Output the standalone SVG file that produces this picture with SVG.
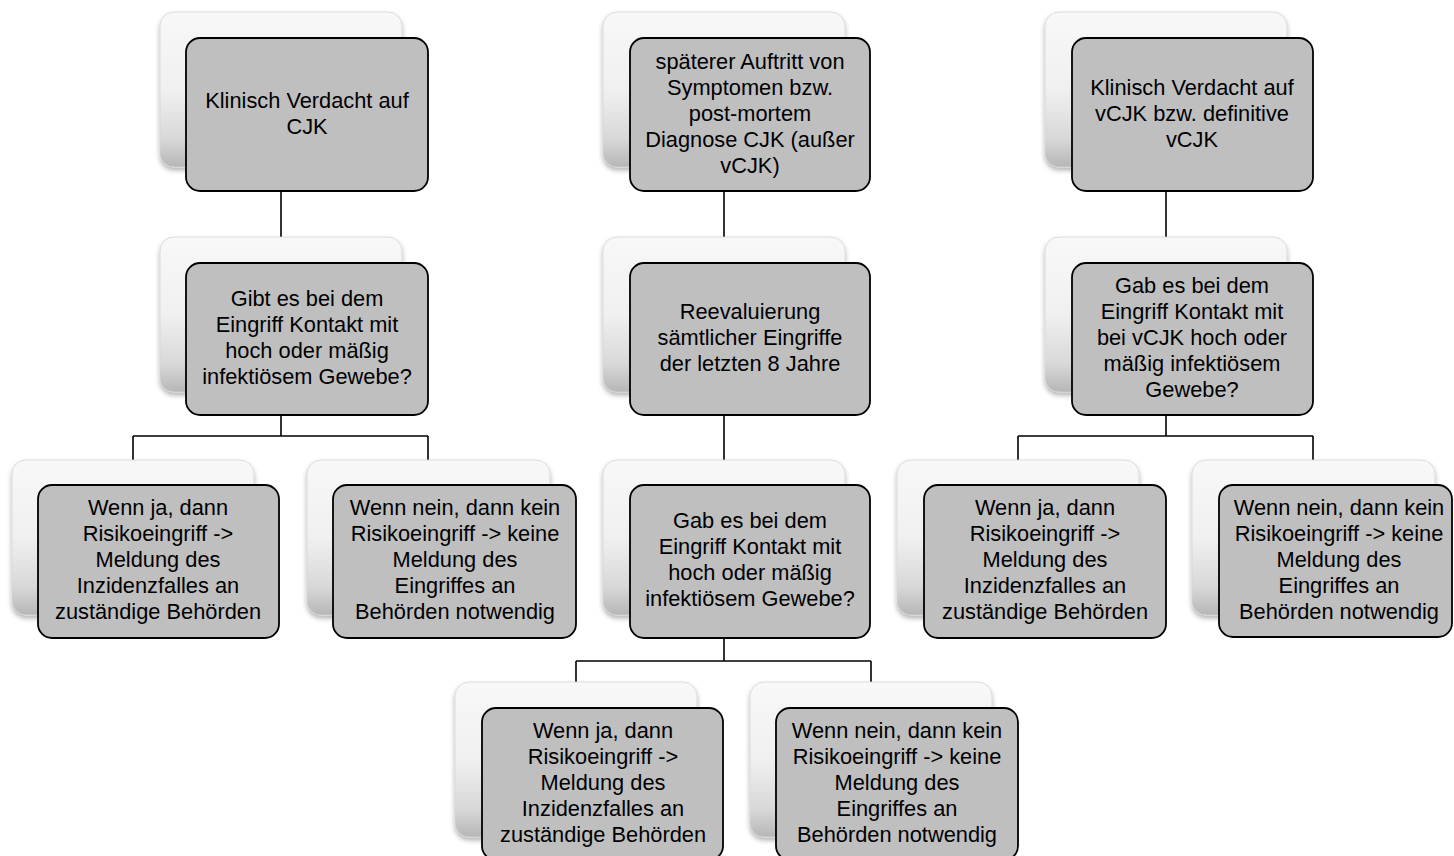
<svg xmlns="http://www.w3.org/2000/svg" width="1454" height="856" viewBox="0 0 1454 856">
<defs>
<linearGradient id="bg" x1="0" y1="0" x2="0" y2="1">
<stop offset="0" stop-color="#f8f8f8"/>
<stop offset="0.5" stop-color="#f0f0f0"/>
<stop offset="0.82" stop-color="#d8d8d8"/>
<stop offset="1" stop-color="#b6b6b6"/>
</linearGradient>
<filter id="sh" x="-10%" y="-10%" width="120%" height="125%">
<feDropShadow dx="0" dy="3" stdDeviation="2.5" flood-color="#000" flood-opacity="0.3"/>
</filter>
<style>
.bk{fill:url(#bg);stroke:#d4d4d4;stroke-width:0.8;filter:url(#sh)}
.fr{fill:#bfbfbf;stroke:#000;stroke-width:1.8}
.t{font-family:"Liberation Sans",Arial,sans-serif;font-size:21.8px;fill:#000;text-anchor:middle}
.c{fill:none;stroke:#000;stroke-width:1.6}
</style>
</defs>
<rect width="1454" height="856" fill="#fff"/>
<g id="connectors">
<path class="c" d="M281,191V237M281,415V436M133,436H428M133,436V460M428,436V460"/>
<path class="c" d="M724,191V237M724,415V460M724,638V661M576,661H871M576,661V682M871,661V682"/>
<path class="c" d="M1166,191V237M1166,415V436M1018,436H1313M1018,436V460M1313,436V460"/>
</g>
<g id="L1">
<rect class="bk" x="160" y="12" width="242" height="155" rx="14"/>
<rect class="fr" x="186" y="38" width="242" height="153" rx="14"/>
<text class="t"><tspan x="307" y="108">Klinisch Verdacht auf</tspan><tspan x="307" y="134">CJK</tspan></text>
</g>
<g id="L2">
<rect class="bk" x="160" y="237" width="242" height="155" rx="14"/>
<rect class="fr" x="186" y="263" width="242" height="152" rx="14"/>
<text class="t"><tspan x="307" y="306">Gibt es bei dem</tspan><tspan x="307" y="332">Eingriff Kontakt mit</tspan><tspan x="307" y="358">hoch oder mäßig</tspan><tspan x="307" y="384">infektiösem Gewebe?</tspan></text>
</g>
<g id="L3a">
<rect class="bk" x="12" y="460" width="242" height="155" rx="14"/>
<rect class="fr" x="38" y="485" width="241" height="153" rx="14"/>
<text class="t"><tspan x="158" y="515">Wenn ja, dann</tspan><tspan x="158" y="541">Risikoeingriff -&gt;</tspan><tspan x="158" y="567">Meldung des</tspan><tspan x="158" y="593">Inzidenzfalles an</tspan><tspan x="158" y="619">zuständige Behörden</tspan></text>
</g>
<g id="L3b">
<rect class="bk" x="307" y="460" width="243" height="155" rx="14"/>
<rect class="fr" x="333" y="485" width="243" height="153" rx="14"/>
<text class="t"><tspan x="455" y="515">Wenn nein, dann kein</tspan><tspan x="455" y="541">Risikoeingriff -&gt; keine</tspan><tspan x="455" y="567">Meldung des</tspan><tspan x="455" y="593">Eingriffes an</tspan><tspan x="455" y="619">Behörden notwendig</tspan></text>
</g>
<g id="M1">
<rect class="bk" x="603" y="12" width="242" height="155" rx="14"/>
<rect class="fr" x="630" y="38" width="240" height="153" rx="14"/>
<text class="t"><tspan x="750" y="69">späterer Auftritt von</tspan><tspan x="750" y="95">Symptomen bzw.</tspan><tspan x="750" y="121">post-mortem</tspan><tspan x="750" y="147">Diagnose CJK (außer</tspan><tspan x="750" y="173">vCJK)</tspan></text>
</g>
<g id="M2">
<rect class="bk" x="603" y="237" width="242" height="155" rx="14"/>
<rect class="fr" x="630" y="263" width="240" height="152" rx="14"/>
<text class="t"><tspan x="750" y="319">Reevaluierung</tspan><tspan x="750" y="345">sämtlicher Eingriffe</tspan><tspan x="750" y="371">der letzten 8 Jahre</tspan></text>
</g>
<g id="M3">
<rect class="bk" x="603" y="460" width="242" height="155" rx="14"/>
<rect class="fr" x="630" y="485" width="240" height="153" rx="14"/>
<text class="t"><tspan x="750" y="528">Gab es bei dem</tspan><tspan x="750" y="554">Eingriff Kontakt mit</tspan><tspan x="750" y="580">hoch oder mäßig</tspan><tspan x="750" y="606">infektiösem Gewebe?</tspan></text>
</g>
<g id="M4a">
<rect class="bk" x="455" y="682" width="242" height="155" rx="14"/>
<rect class="fr" x="482" y="708" width="241" height="152" rx="14"/>
<text class="t"><tspan x="603" y="738">Wenn ja, dann</tspan><tspan x="603" y="764">Risikoeingriff -&gt;</tspan><tspan x="603" y="790">Meldung des</tspan><tspan x="603" y="816">Inzidenzfalles an</tspan><tspan x="603" y="842">zuständige Behörden</tspan></text>
</g>
<g id="M4b">
<rect class="bk" x="750" y="682" width="242" height="155" rx="14"/>
<rect class="fr" x="776" y="708" width="242" height="152" rx="14"/>
<text class="t"><tspan x="897" y="738">Wenn nein, dann kein</tspan><tspan x="897" y="764">Risikoeingriff -&gt; keine</tspan><tspan x="897" y="790">Meldung des</tspan><tspan x="897" y="816">Eingriffes an</tspan><tspan x="897" y="842">Behörden notwendig</tspan></text>
</g>
<g id="R1">
<rect class="bk" x="1045" y="12" width="242" height="155" rx="14"/>
<rect class="fr" x="1072" y="38" width="241" height="153" rx="14"/>
<text class="t"><tspan x="1192" y="95">Klinisch Verdacht auf</tspan><tspan x="1192" y="121">vCJK bzw. definitive</tspan><tspan x="1192" y="147">vCJK</tspan></text>
</g>
<g id="R2">
<rect class="bk" x="1045" y="237" width="242" height="155" rx="14"/>
<rect class="fr" x="1072" y="263" width="241" height="152" rx="14"/>
<text class="t"><tspan x="1192" y="293">Gab es bei dem</tspan><tspan x="1192" y="319">Eingriff Kontakt mit</tspan><tspan x="1192" y="345">bei vCJK hoch oder</tspan><tspan x="1192" y="371">mäßig infektiösem</tspan><tspan x="1192" y="397">Gewebe?</tspan></text>
</g>
<g id="R3a">
<rect class="bk" x="897" y="460" width="242" height="155" rx="14"/>
<rect class="fr" x="924" y="485" width="242" height="153" rx="14"/>
<text class="t"><tspan x="1045" y="515">Wenn ja, dann</tspan><tspan x="1045" y="541">Risikoeingriff -&gt;</tspan><tspan x="1045" y="567">Meldung des</tspan><tspan x="1045" y="593">Inzidenzfalles an</tspan><tspan x="1045" y="619">zuständige Behörden</tspan></text>
</g>
<g id="R3b">
<rect class="bk" x="1192" y="460" width="243" height="155" rx="14"/>
<rect class="fr" x="1219" y="485" width="233" height="152" rx="14"/>
<text class="t"><tspan x="1339" y="515">Wenn nein, dann kein</tspan><tspan x="1339" y="541">Risikoeingriff -&gt; keine</tspan><tspan x="1339" y="567">Meldung des</tspan><tspan x="1339" y="593">Eingriffes an</tspan><tspan x="1339" y="619">Behörden notwendig</tspan></text>
</g>
</svg>
